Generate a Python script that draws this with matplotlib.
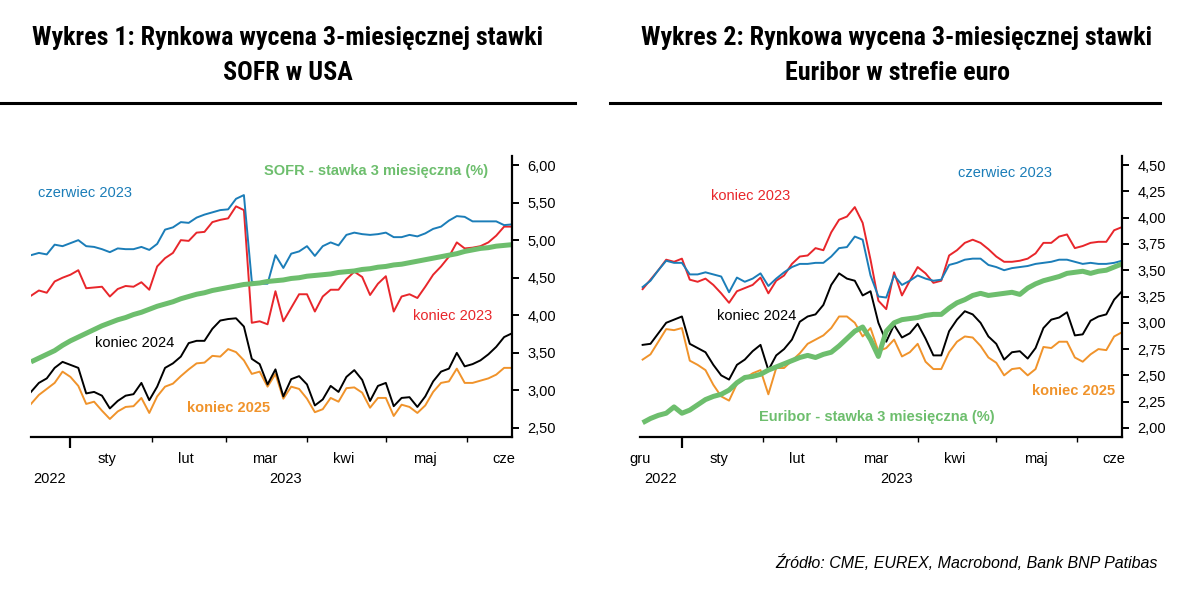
import matplotlib
matplotlib.use("Agg")
import matplotlib.pyplot as plt
import matplotlib.dates as mdates
from matplotlib.lines import Line2D
import pandas as pd

plt.rcParams['font.family'] = ['Liberation Sans', 'DejaVu Sans']

# common date grid (every 3 days, 17.12.2022 - 18.06.2023)
dates = pd.date_range('2022-12-17', periods=62, freq='3D')

# --- Wykres 1: SOFR ---
sofr_cze23 = [4.80, 4.83, 4.81, 4.94, 4.92, 4.96, 5.00, 4.92, 4.91, 4.88,
              4.84, 4.89, 4.88, 4.88, 4.91, 4.87, 4.95, 5.14, 5.17, 5.24,
              5.23, 5.30, 5.34, 5.37, 5.40, 5.41, 5.55, 5.60, 4.45, 4.42,
              4.42, 4.80, 4.63, 4.82, 4.85, 4.92, 4.79, 4.92, 4.97, 4.93,
              5.07, 5.10, 5.08, 5.07, 5.08, 5.10, 5.04, 5.04, 5.07, 5.05,
              5.09, 5.15, 5.18, 5.26, 5.32, 5.31, 5.25, 5.25, 5.25, 5.25,
              5.20, 5.21]
sofr_kon23 = [4.26, 4.33, 4.30, 4.45, 4.50, 4.54, 4.60, 4.36, 4.37, 4.38,
              4.25, 4.35, 4.39, 4.38, 4.44, 4.34, 4.65, 4.76, 4.83, 5.00,
              4.99, 5.10, 5.11, 5.24, 5.27, 5.29, 5.45, 5.40, 3.90, 3.92,
              3.88, 4.32, 3.92, 4.10, 4.28, 4.28, 4.05, 4.25, 4.34, 4.34,
              4.48, 4.58, 4.51, 4.27, 4.42, 4.52, 4.05, 4.25, 4.28, 4.23,
              4.38, 4.54, 4.65, 4.78, 4.97, 4.89, 4.90, 4.92, 4.97, 5.06,
              5.18, 5.18]
sofr_kon24 = [2.98, 3.10, 3.16, 3.30, 3.38, 3.34, 3.30, 2.96, 2.98, 2.93,
              2.76, 2.86, 2.93, 2.95, 3.10, 2.87, 3.05, 3.30, 3.36, 3.45,
              3.63, 3.66, 3.66, 3.82, 3.93, 3.95, 3.96, 3.85, 3.42, 3.35,
              3.08, 3.28, 2.92, 3.15, 3.19, 3.08, 2.80, 2.88, 3.06, 2.98,
              3.18, 3.27, 3.14, 2.86, 3.06, 3.10, 2.79, 2.90, 2.91, 2.78,
              2.92, 3.12, 3.25, 3.29, 3.50, 3.32, 3.35, 3.40, 3.48, 3.58,
              3.71, 3.76]
sofr_kon25 = [2.82, 2.94, 3.02, 3.10, 3.25, 3.18, 3.06, 2.82, 2.85, 2.73,
              2.62, 2.72, 2.78, 2.79, 2.90, 2.70, 2.92, 3.05, 3.09, 3.19,
              3.28, 3.36, 3.37, 3.46, 3.45, 3.55, 3.51, 3.40, 3.22, 3.25,
              3.05, 3.22, 2.89, 3.05, 3.02, 2.89, 2.71, 2.75, 2.90, 2.85,
              3.03, 3.04, 2.97, 2.77, 2.90, 2.90, 2.66, 2.81, 2.78, 2.70,
              2.80, 2.98, 3.10, 3.12, 3.29, 3.10, 3.10, 3.13, 3.16, 3.21,
              3.30, 3.30]
sofr_3m = [3.38, 3.43, 3.48, 3.53, 3.60, 3.66, 3.71, 3.76, 3.81, 3.86,
           3.90, 3.94, 3.97, 4.01, 4.04, 4.08, 4.12, 4.15, 4.18, 4.22,
           4.25, 4.28, 4.30, 4.33, 4.35, 4.37, 4.39, 4.41, 4.42, 4.43,
           4.45, 4.46, 4.47, 4.49, 4.50, 4.52, 4.53, 4.54, 4.55, 4.57,
           4.58, 4.59, 4.61, 4.62, 4.64, 4.65, 4.67, 4.68, 4.70, 4.72,
           4.74, 4.76, 4.78, 4.80, 4.82, 4.85, 4.87, 4.89, 4.90, 4.92,
           4.93, 4.94]

# --- Wykres 2: Euribor ---
eur_cze23 = [3.34, 3.40, 3.50, 3.59, 3.57, 3.57, 3.46, 3.46, 3.48, 3.46,
             3.44, 3.29, 3.43, 3.39, 3.42, 3.47, 3.35, 3.42, 3.48, 3.53,
             3.56, 3.56, 3.57, 3.57, 3.63, 3.71, 3.72, 3.82, 3.79, 3.45,
             3.25, 3.24, 3.45, 3.36, 3.40, 3.45, 3.42, 3.40, 3.41, 3.55,
             3.57, 3.60, 3.61, 3.61, 3.55, 3.53, 3.50, 3.52, 3.53, 3.54,
             3.56, 3.57, 3.58, 3.60, 3.60, 3.58, 3.56, 3.57, 3.56, 3.56,
             3.57, 3.59]
eur_kon23 = [3.32, 3.41, 3.50, 3.60, 3.58, 3.61, 3.41, 3.39, 3.42, 3.36,
             3.28, 3.19, 3.30, 3.33, 3.36, 3.43, 3.28, 3.40, 3.45, 3.56,
             3.63, 3.64, 3.71, 3.69, 3.86, 3.98, 4.01, 4.10, 3.95, 3.60,
             3.21, 3.13, 3.48, 3.26, 3.40, 3.53, 3.47, 3.38, 3.40, 3.64,
             3.69, 3.76, 3.79, 3.76, 3.70, 3.63, 3.58, 3.58, 3.59, 3.61,
             3.66, 3.76, 3.76, 3.82, 3.84, 3.71, 3.73, 3.76, 3.77, 3.77,
             3.88, 3.91]
eur_kon24 = [2.79, 2.80, 2.90, 3.00, 3.03, 3.06, 2.80, 2.76, 2.72, 2.60,
             2.50, 2.46, 2.60, 2.65, 2.73, 2.79, 2.55, 2.69, 2.75, 2.84,
             3.01, 3.06, 3.08, 3.17, 3.36, 3.47, 3.42, 3.40, 3.26, 3.30,
             3.00, 2.82, 2.98, 2.86, 2.90, 2.99, 2.85, 2.69, 2.69, 2.92,
             3.03, 3.11, 3.08, 3.00, 2.87, 2.80, 2.65, 2.72, 2.73, 2.66,
             2.76, 2.95, 3.03, 3.05, 3.10, 2.88, 2.89, 3.02, 3.06, 3.08,
             3.22, 3.30]
eur_kon25 = [2.65, 2.70, 2.82, 2.94, 2.93, 2.95, 2.64, 2.60, 2.55, 2.41,
             2.30, 2.26, 2.42, 2.47, 2.52, 2.55, 2.32, 2.57, 2.57, 2.64,
             2.71, 2.80, 2.84, 2.88, 2.95, 3.06, 3.06, 3.00, 2.87, 2.95,
             2.73, 2.76, 2.84, 2.68, 2.72, 2.80, 2.63, 2.56, 2.56, 2.72,
             2.82, 2.87, 2.86, 2.78, 2.67, 2.62, 2.50, 2.56, 2.57, 2.50,
             2.56, 2.77, 2.76, 2.82, 2.82, 2.67, 2.63, 2.70, 2.75, 2.74,
             2.87, 2.91]
eur_3m = [2.05, 2.09, 2.12, 2.14, 2.20, 2.14, 2.17, 2.22, 2.27, 2.30,
          2.32, 2.36, 2.43, 2.48, 2.49, 2.51, 2.55, 2.58, 2.61, 2.64,
          2.67, 2.69, 2.67, 2.70, 2.72, 2.78, 2.85, 2.92, 2.96, 2.84,
          2.68, 2.92, 3.00, 3.03, 3.04, 3.05, 3.07, 3.08, 3.08, 3.14,
          3.19, 3.22, 3.26, 3.28, 3.26, 3.27, 3.28, 3.29, 3.27, 3.33,
          3.37, 3.40, 3.42, 3.44, 3.47, 3.48, 3.49, 3.47, 3.49, 3.50,
          3.53, 3.56]

months_left = ['sty', 'lut', 'mar', 'kwi', 'maj', 'cze']
months_right = ['gru', 'sty', 'lut', 'mar', 'kwi', 'maj', 'cze']
mid_left = ['2023-01-15', '2023-02-14', '2023-03-16', '2023-04-15', '2023-05-16', '2023-06-15']
mid_right = ['2022-12-16'] + mid_left

BLUE = '#1b7db8'
RED = '#e8262b'
ORANGE = '#f0932b'
GREEN = '#6dbe6d'
BLACK = '#000000'

W, H = 1200, 591
fig = plt.figure(figsize=(12, 5.91), dpi=100)


def px(x, y):
    return x / W, 1 - y / H


def setup_axis(ax, xlim, ylim, yticks, months, mids, years):
    ax.set_xlim(pd.Timestamp(xlim[0]), pd.Timestamp(xlim[1]))
    ax.set_ylim(*ylim)
    for s in ['left', 'top']:
        ax.spines[s].set_visible(False)
    for s in ['right', 'bottom']:
        ax.spines[s].set_linewidth(1.6)
    ax.yaxis.tick_right()
    ax.set_yticks(yticks)
    ax.set_yticklabels([('%.2f' % t).replace('.', ',') for t in yticks], fontsize=10.5)
    ax.tick_params(axis='y', direction='out', length=5, width=1.4, pad=6)
    ax.xaxis.set_major_locator(mdates.YearLocator())
    ax.xaxis.set_minor_locator(mdates.MonthLocator())
    ax.xaxis.set_major_formatter(plt.NullFormatter())
    ax.tick_params(axis='x', which='major', direction='out', length=8, width=1.6)
    ax.tick_params(axis='x', which='minor', direction='out', length=3.5, width=1.0)
    tr = ax.get_xaxis_transform()
    for m, d in zip(months, mids):
        ax.text(pd.Timestamp(d), -0.078, m, transform=tr, ha='center', va='center', fontsize=10.5)
    for yr, d in years:
        ax.text(pd.Timestamp(d), -0.148, yr, transform=tr, ha='center', va='center', fontsize=10.5)


LW = 1.4

# left chart
ax1 = fig.add_axes([31 / W, 1 - 437 / H, (512 - 31) / W, (437 - 156) / H])
ax1.plot(dates, sofr_kon25, color=ORANGE, lw=LW)
ax1.plot(dates, sofr_kon24, color=BLACK, lw=LW)
ax1.plot(dates, sofr_kon23, color=RED, lw=LW)
ax1.plot(dates, sofr_cze23, color=BLUE, lw=LW)
ax1.plot(dates, sofr_3m, color=GREEN, lw=3.6, solid_capstyle='butt')
setup_axis(ax1, ('2022-12-17', '2023-06-18'), (2.38, 6.12),
           [2.5, 3.0, 3.5, 4.0, 4.5, 5.0, 5.5, 6.0], months_left, mid_left,
           [('2022', '2022-12-24'), ('2023', '2023-03-24')])

# right chart
ax2 = fig.add_axes([640 / W, 1 - 437 / H, (1122 - 640) / W, (437 - 156) / H])
ax2.plot(dates, eur_kon25, color=ORANGE, lw=LW)
ax2.plot(dates, eur_kon24, color=BLACK, lw=LW)
ax2.plot(dates, eur_kon23, color=RED, lw=LW)
ax2.plot(dates, eur_cze23, color=BLUE, lw=LW)
ax2.plot(dates, eur_3m, color=GREEN, lw=3.6, solid_capstyle='butt')
setup_axis(ax2, ('2022-12-16', '2023-06-18'), (1.914, 4.586),
           [2.0, 2.25, 2.5, 2.75, 3.0, 3.25, 3.5, 3.75, 4.0, 4.25, 4.5],
           months_right, mid_right,
           [('2022', '2022-12-24'), ('2023', '2023-03-24')])

# titles (narrow bold face)
title_font = ['Roboto Condensed', 'Archivo Narrow', 'Liberation Sans']
for cx, l1, l2 in [(288, 'Wykres 1: Rynkowa wycena 3-miesięcznej stawki', 'SOFR w USA'),
                   (897, 'Wykres 2: Rynkowa wycena 3-miesięcznej stawki', 'Euribor w strefie euro')]:
    fig.text(*px(cx, 38), l1, ha='center', va='center', fontsize=18.7,
             fontweight='bold', family=title_font)
    fig.text(*px(cx, 73), l2, ha='center', va='center', fontsize=18.7,
             fontweight='bold', family=title_font)

fig.add_artist(Line2D([0, 575 / W], [1 - 103 / H] * 2, color='black', lw=2.2))
fig.add_artist(Line2D([610 / W, 1160 / W], [1 - 103 / H] * 2, color='black', lw=2.2))

# series labels
fig.text(*px(38, 193), 'czerwiec 2023', color=BLUE, fontsize=10.5, ha='left', va='center')
fig.text(*px(376, 171), 'SOFR - stawka 3 miesięczna (%)', color=GREEN, fontsize=10.5,
         fontweight='bold', ha='center', va='center')
fig.text(*px(413, 316), 'koniec 2023', color=RED, fontsize=10.5, ha='left', va='center')
fig.text(*px(95, 343), 'koniec 2024', color=BLACK, fontsize=10.5, ha='left', va='center')
fig.text(*px(187, 408), 'koniec 2025', color=ORANGE, fontsize=10.5, fontweight='bold',
         ha='left', va='center')

fig.text(*px(711, 196), 'koniec 2023', color=RED, fontsize=10.5, ha='left', va='center')
fig.text(*px(958, 173), 'czerwiec 2023', color=BLUE, fontsize=10.5, ha='left', va='center')
fig.text(*px(717, 316), 'koniec 2024', color=BLACK, fontsize=10.5, ha='left', va='center')
fig.text(*px(877, 417), 'Euribor - stawka 3 miesięczna (%)', color=GREEN, fontsize=10.5,
         fontweight='bold', ha='center', va='center')
fig.text(*px(1115, 391), 'koniec 2025', color=ORANGE, fontsize=10.5, fontweight='bold',
         ha='right', va='center')

fig.text(*px(1158, 563), 'Źródło: CME, EUREX, Macrobond, Bank BNP Patibas',
         fontsize=11.5, style='italic', ha='right', va='center')

fig.savefig('out.png', dpi=100)
